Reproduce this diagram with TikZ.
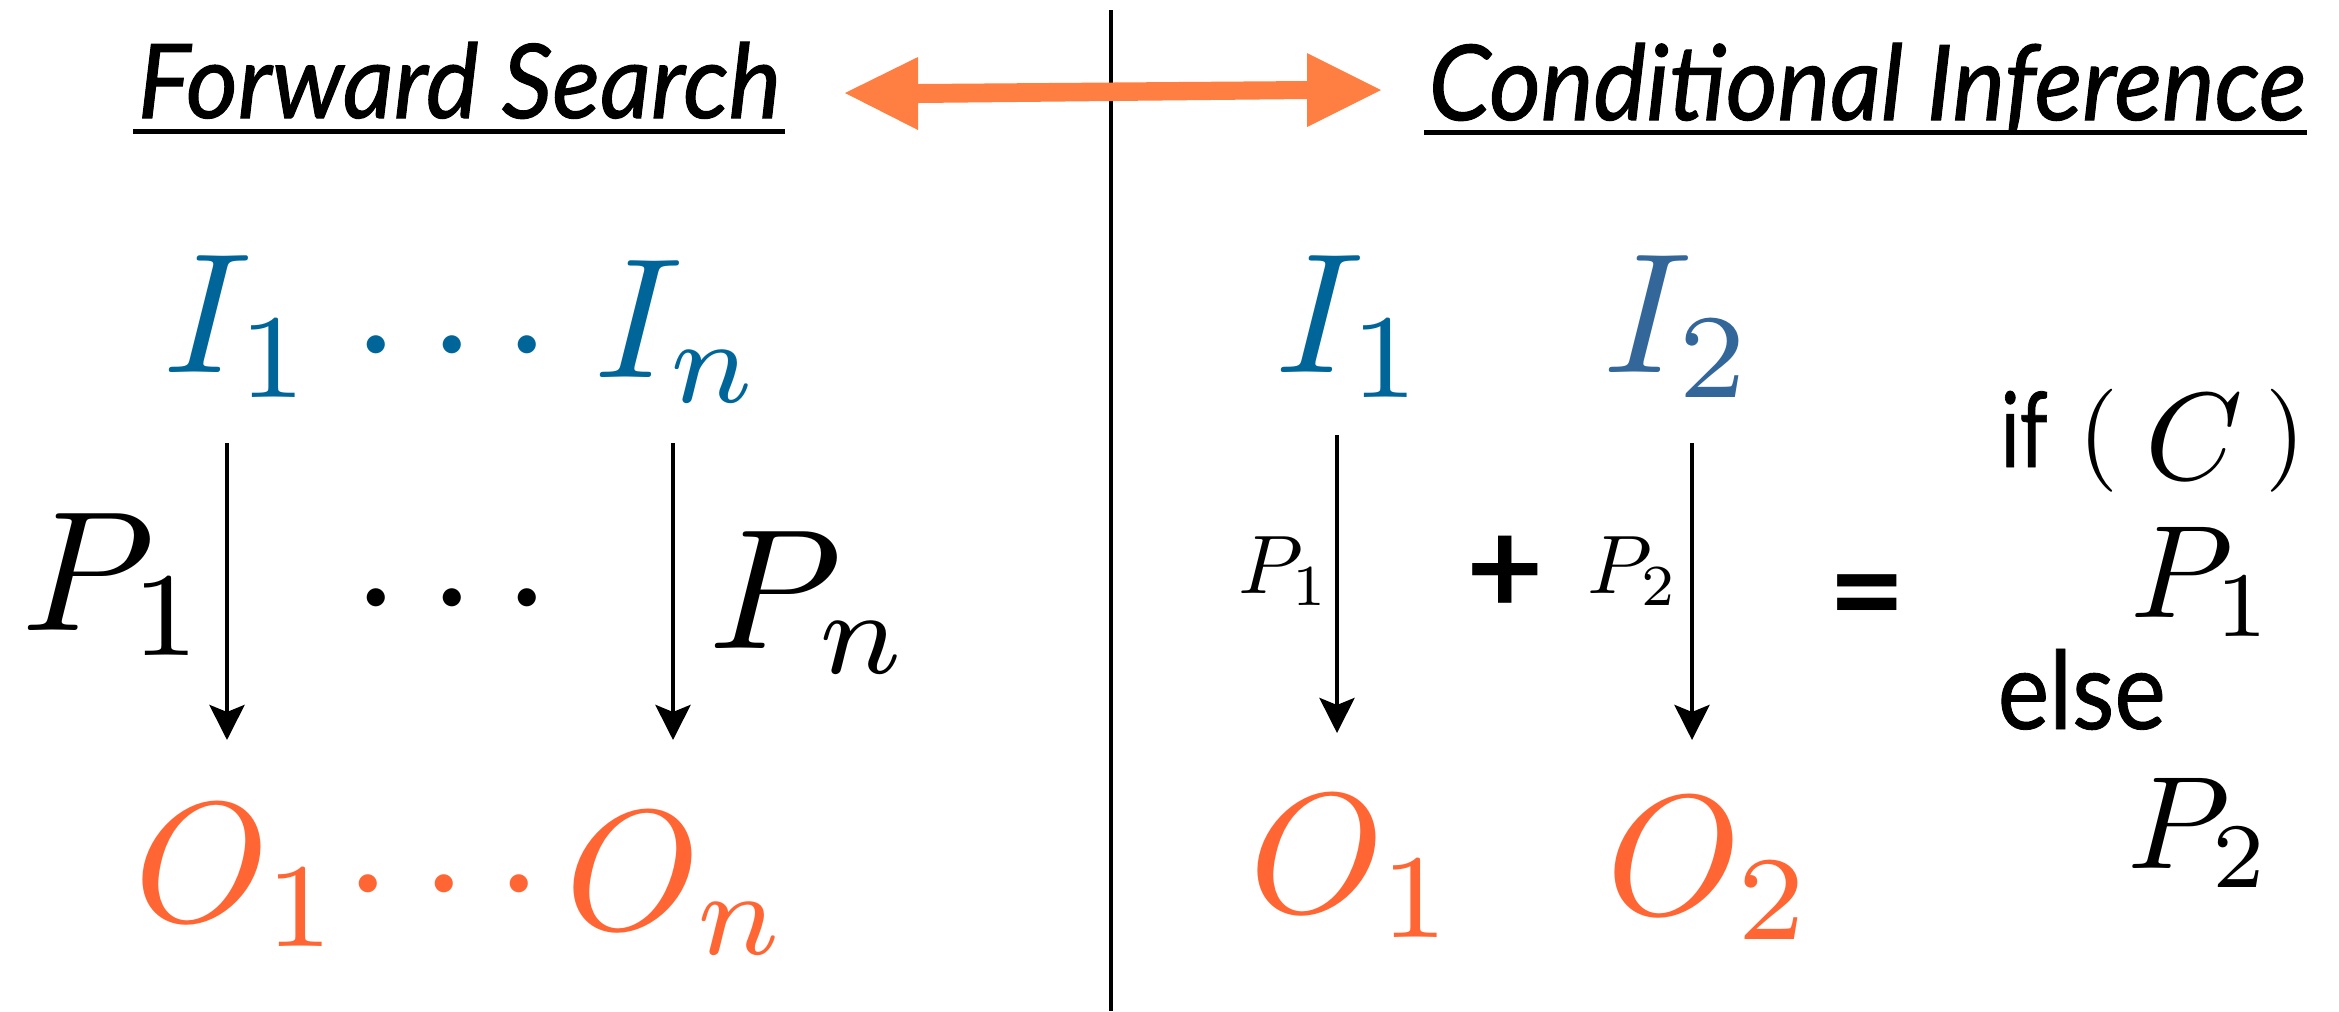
\documentclass[tikz,border=0pt]{standalone}
\usepackage{fontspec}
\usepackage{graphicx}
\usetikzlibrary{arrows.meta}
\newfontfamily\gill{Lato}
\definecolor{iblue}{HTML}{006699}
\definecolor{iblueb}{HTML}{336699}
\definecolor{oorange}{HTML}{FF6633}
\definecolor{aorange}{HTML}{FF7F42}
\newcommand{\xbig}[1]{\scalebox{4.86}{$#1$}}
\newcommand{\xmed}[1]{\scalebox{3.75}{$#1$}}
\newcommand{\xsmall}[1]{\scalebox{2.36}{$#1$}}
\newcommand{\xcond}[1]{\scalebox{3.53}{$#1$}}
\newcommand{\xpar}[1]{\scalebox{2.93}{$#1$}}
\tikzset{
  plain/.style={inner sep=0pt},
  symb/.style={inner sep=0pt, font=\fontsize{38pt}{44pt}\gill\bfseries},
  flow/.style={line width=0.045cm, -{Stealth[length=0.35cm, width=0.35cm, inset=0.07cm]}},
  rule/.style={line width=0.05cm},
}
\begin{document}
\begin{tikzpicture}[x=0.01cm, y=-0.01cm]
\useasboundingbox (0,0) rectangle (2339,1011);

% titles
\node[plain, anchor=base west] (fs) at (137,118) {\resizebox{6.43cm}{0.76cm}{\gill\itshape\addfontfeature{FakeBold=1}Forward Search}};
\node[plain, anchor=base west] (ci) at (1428,120) {\resizebox{8.77cm}{0.77cm}{\gill\itshape\addfontfeature{FakeBold=1}Conditional Inference}};
\draw[rule] (133,131) -- (785,131);
\draw[rule] (1424,132) -- (2307,132);

% separator
\draw[line width=0.045cm] (1111,10) -- (1111,1011);

% double arrow
\fill[aorange] (845,93) -- (918,57) -- (918,84) -- (1307,81) -- (1307,53) -- (1381,90)
  -- (1307,127) -- (1307,99) -- (918,103) -- (918,130) -- cycle;

% left side
\node[plain, text=iblue, anchor=base west] (I1L) at (163,372) {\xbig{I_1}};
\node[plain, text=iblue, anchor=base] (dIL) at (452,387) {\xbig{\cdots}};
\node[plain, text=iblue, anchor=base west] (InL) at (594,377) {\xbig{I_n}};
\node[plain, anchor=base west] (P1L) at (21,630) {\xbig{P_1}};
\node[plain, anchor=base] (dPL) at (452,640) {\xbig{\cdots}};
\node[plain, anchor=base west] (PnL) at (708,648) {\xbig{P_n}};
\node[plain, text=oorange, anchor=base west] (O1L) at (134,921) {\xbig{O_1}};
\node[plain, text=oorange, anchor=base] (dOL) at (444,926) {\xbig{\cdots}};
\node[plain, text=oorange, anchor=base west] (OnL) at (565,929) {\xbig{O_n}};

\coordinate (aL1s) at (227,443); \coordinate (aL1e) at (227,740);
\coordinate (aL2s) at (673,443); \coordinate (aL2e) at (673,740);
\draw[flow] (aL1s) -- (aL1e);
\draw[flow] (aL2s) -- (aL2e);

% right side
\node[plain, text=iblue, anchor=base west] (I1R) at (1275,372) {\xbig{I_1}};
\node[plain, text=iblueb, anchor=base west] (I2R) at (1603,372) {\xbig{I_2}};
\node[plain, anchor=base west] (P1s) at (1238,593) {\xsmall{P_1}};
\node[plain, anchor=base west] (P2s) at (1587,593) {\xsmall{P_2}};
\node[symb] (plus) at (1505,575) {+};
\node[symb] (eq) at (1867,606) {=};
\node[plain, text=oorange, anchor=base west] (O1R) at (1249,912) {\xbig{O_1}};
\node[plain, text=oorange, anchor=base west] (O2R) at (1606,914) {\xbig{O_2}};

\coordinate (aR1s) at (1337,435); \coordinate (aR1e) at (1337,733);
\coordinate (aR2s) at (1692,443); \coordinate (aR2e) at (1692,740);
\draw[flow] (aR1s) -- (aR1e);
\draw[flow] (aR2s) -- (aR2e);

% if / else
\node[plain, anchor=base west] (ifkw) at (2000,467) {\resizebox{0.47cm}{0.76cm}{\gill\addfontfeature{FakeBold=0.8}if}};
\node[plain] (lpar) at (2099,441) {\xpar{(}};
\node[plain, anchor=base west] (Cv) at (2145,479) {\xcond{C}};
\node[plain] (rpar) at (2286,441) {\xpar{)}};
\node[plain, anchor=base west] (P1b) at (2130,617) {\xmed{P_1}};
\node[plain, anchor=base west] (elsekw) at (1997,729) {\resizebox{1.68cm}{0.80cm}{\gill\addfontfeature{FakeBold=0.8}else}};
\node[plain, anchor=base west] (P2b) at (2127,868) {\xmed{P_2}};
\end{tikzpicture}
\end{document}
